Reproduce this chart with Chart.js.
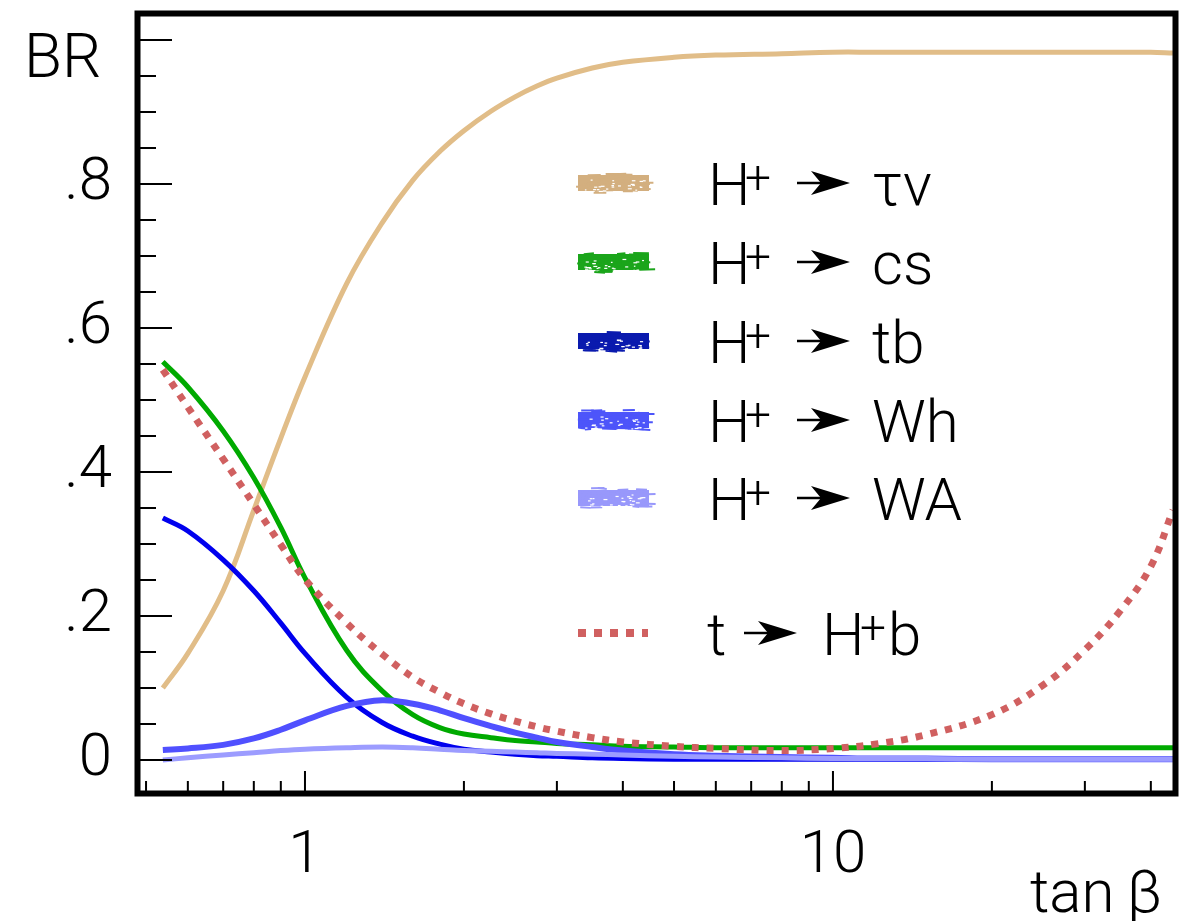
<!DOCTYPE html>
<html>
<head>
<meta charset="utf-8">
<script src="https://cdn.jsdelivr.net/npm/chart.js@4.4.1/dist/chart.umd.min.js"></script>
<style>
  html, body { margin: 0; padding: 0; background: #fff; }
  #wrap { width: 1190px; height: 921px; }
</style>
</head>
<body>
<div id="wrap"><canvas id="br-chart" width="1190" height="921"></canvas></div>
<script>
// tan(beta) sampling points
var tanBeta = [0.538, 0.6, 0.7, 0.8, 0.9, 1, 1.2, 1.4, 1.6, 1.8, 2, 2.25, 2.5, 2.75, 3, 3.5, 4, 5, 6, 8, 10, 12, 15, 20, 25, 30, 35, 40, 44.06];

// branching ratios
var brTauNu = [0.100, 0.148, 0.235, 0.347, 0.447, 0.532, 0.662, 0.746, 0.805, 0.845, 0.874, 0.901, 0.921, 0.936, 0.947, 0.961, 0.969, 0.976, 0.979, 0.981, 0.983, 0.983, 0.983, 0.983, 0.983, 0.983, 0.983, 0.983, 0.982];
var brCs    = [0.553, 0.518, 0.457, 0.392, 0.323, 0.253, 0.152, 0.096, 0.063, 0.045, 0.036, 0.031, 0.027, 0.025, 0.023, 0.021, 0.019, 0.018, 0.017, 0.017, 0.017, 0.017, 0.017, 0.017, 0.017, 0.017, 0.017, 0.017, 0.017];
var brTb    = [0.336, 0.318, 0.278, 0.235, 0.190, 0.148, 0.087, 0.052, 0.033, 0.022, 0.015, 0.011, 0.008, 0.006, 0.005, 0.003, 0.002, 0.001, 0.001, 0.001, 0.001, 0.001, 0.001, 0.001, 0.001, 0.001, 0.001, 0.001, 0.001];
var brWh    = [0.014, 0.016, 0.021, 0.030, 0.042, 0.055, 0.075, 0.083, 0.078, 0.069, 0.058, 0.047, 0.038, 0.031, 0.025, 0.018, 0.013, 0.008, 0.006, 0.004, 0.003, 0.002, 0.002, 0.001, 0.001, 0.001, 0.001, 0.001, 0.001];
var brWA    = [0.000, 0.003, 0.007, 0.010, 0.013, 0.015, 0.017, 0.018, 0.017, 0.015, 0.013, 0.012, 0.011, 0.010, 0.009, 0.008, 0.007, 0.005, 0.004, 0.003, 0.002, 0.002, 0.002, 0.001, 0.001, 0.001, 0.001, 0.001, 0.001];
var brTopToHb = [0.542, 0.490, 0.418, 0.355, 0.299, 0.251, 0.190, 0.147, 0.115, 0.094, 0.078, 0.064, 0.054, 0.046, 0.040, 0.031, 0.025, 0.019, 0.016, 0.013, 0.016, 0.022, 0.035, 0.063, 0.104, 0.153, 0.207, 0.269, 0.347];

// axis ticks
var yTickValues = [0, 0.2, 0.4, 0.6, 0.8];
var yTickLabels = ['0', '.2', '.4', '.6', '.8'];
var yMajorMarks = [0, 0.2, 0.4, 0.6, 0.8, 1.0];
var yMinorMarks = [0.05, 0.1, 0.15, 0.25, 0.3, 0.35, 0.45, 0.5, 0.55, 0.65, 0.7, 0.75, 0.85, 0.9, 0.95];
var xTickValues = [1, 10];
var xTickLabels = ['1', '10'];
var xMinorMarks = [0.5, 0.6, 0.7, 0.8, 0.9, 2, 3, 4, 5, 6, 7, 8, 9, 20, 30, 40];

// legend entries
var legendProducts = ['\u03c4\u03bd', 'cs', 'tb', 'Wh', 'WA'];
var legendColors = ['#d3af7f', '#1ba51b', '#0a1aae', '#4d55fa', '#9898fb'];

var FONT = '"Helvetica Neue", Roboto, "Liberation Sans", sans-serif';

function pts(values) {
  return values.map(function (v, i) { return { x: tanBeta[i], y: v }; });
}

function line(label, values, color, width, order) {
  return {
    label: label,
    data: pts(values),
    borderColor: color,
    borderWidth: width,
    pointRadius: 0,
    fill: false,
    tension: 0.4,
    order: order
  };
}

// cheap deterministic noise for the crayon-like legend swatches
function noise(n) {
  var s = Math.sin(n * 12.9898) * 43758.5453;
  return s - Math.floor(s);
}

function crayon(ctx, x, y, w, h, color) {
  ctx.save();
  ctx.fillStyle = color;
  ctx.fillRect(x + 2, y - h / 2 + 2, w - 4, h - 4);
  ctx.strokeStyle = color;
  ctx.lineWidth = 2;
  for (var i = 0; i < 40; i++) {
    var sx = x + noise(i + y) * (w - 10);
    var sy = y - h / 2 + noise(i * 3.1 + y) * h;
    ctx.beginPath();
    ctx.moveTo(sx, sy);
    ctx.lineTo(sx + 6 + noise(i * 7.7) * 10, sy + (noise(i * 5.3) - 0.5) * 2);
    ctx.stroke();
  }
  ctx.fillStyle = '#fff';
  for (var j = 0; j < 26; j++) {
    var fx = x + 8 + noise(j * 2.3 + y * 0.7) * (w - 16);
    var fy = y + (noise(j * 4.9 + y) - 0.3) * h * 0.6;
    ctx.fillRect(fx, fy, 1.5 + noise(j) * 2.5, 1.2);
  }
  ctx.restore();
}

function arrow(ctx, x0, y) {
  ctx.save();
  ctx.strokeStyle = '#000';
  ctx.fillStyle = '#000';
  ctx.lineWidth = 2.5;
  ctx.beginPath();
  ctx.moveTo(x0, y);
  ctx.lineTo(x0 + 30, y);
  ctx.stroke();
  ctx.beginPath();
  ctx.moveTo(x0 + 53, y);
  ctx.lineTo(x0 + 14, y - 12);
  ctx.lineTo(x0 + 24, y);
  ctx.lineTo(x0 + 14, y + 12);
  ctx.closePath();
  ctx.fill();
  ctx.restore();
}

var framePlugin = {
  id: 'frame',
  afterDraw: function (chart) {
    var ctx = chart.ctx, a = chart.chartArea;
    var xs = chart.scales.x, ys = chart.scales.y;
    ctx.save();
    ctx.strokeStyle = '#000';
    ctx.lineWidth = 2;
    ctx.beginPath();
    yMajorMarks.forEach(function (v) {
      var p = ys.getPixelForValue(v);
      ctx.moveTo(a.left, p); ctx.lineTo(a.left + 32, p);
    });
    yMinorMarks.forEach(function (v) {
      var p = ys.getPixelForValue(v);
      ctx.moveTo(a.left, p); ctx.lineTo(a.left + 16, p);
    });
    xTickValues.forEach(function (v) {
      var p = xs.getPixelForValue(v);
      ctx.moveTo(p, a.bottom); ctx.lineTo(p, a.bottom - 20);
    });
    xMinorMarks.forEach(function (v) {
      var p = xs.getPixelForValue(v);
      ctx.moveTo(p, a.bottom); ctx.lineTo(p, a.bottom - 10);
    });
    ctx.stroke();

    ctx.lineWidth = 6;
    ctx.strokeRect(a.left - 2.5, a.top - 2.5, a.right - a.left + 5, a.bottom - a.top + 5);

    // axis titles
    ctx.fillStyle = '#000';
    ctx.textBaseline = 'alphabetic';
    ctx.textAlign = 'left';
    ctx.font = '300 62px ' + FONT;
    ctx.fillText('BR', 24, 77);
    ctx.font = '300 60px ' + FONT;
    ctx.fillText('tan\u2009\u03b2', 1030, 912);

    // legend
    var rowY = [183, 262, 341, 420, 498];
    rowY.forEach(function (y, i) {
      crayon(ctx, 576, y, 75, 20, legendColors[i]);
      ctx.fillStyle = '#000';
      ctx.font = '300 60px ' + FONT;
      ctx.fillText('H', 708, y + 22);
      ctx.font = '300 46px ' + FONT;
      ctx.fillText('+', 745, y + 10);
      arrow(ctx, 797, y);
      ctx.font = '300 60px ' + FONT;
      ctx.fillText(legendProducts[i], 872, y + 22);
    });

    var yt = 633;
    ctx.save();
    ctx.strokeStyle = '#d06060';
    ctx.lineWidth = 8;
    ctx.setLineDash([8, 8]);
    ctx.beginPath();
    ctx.moveTo(578, yt); ctx.lineTo(648, yt);
    ctx.stroke();
    ctx.restore();
    ctx.fillStyle = '#000';
    ctx.font = '300 60px ' + FONT;
    ctx.fillText('t', 707, yt + 22);
    arrow(ctx, 744, yt);
    ctx.fillText('H', 822, yt + 22);
    ctx.font = '300 46px ' + FONT;
    ctx.fillText('+', 860, yt + 10);
    ctx.font = '300 60px ' + FONT;
    ctx.fillText('b', 888, yt + 22);
    ctx.restore();
  }
};

var ctx = document.getElementById('br-chart').getContext('2d');

var brChart = new Chart(ctx, {
  type: 'line',
  data: {
    datasets: [
      line('H+ \u2192 \u03c4\u03bd', brTauNu, '#e1bd88', 5, 6),
      line('H+ \u2192 cs', brCs, '#00aa00', 5, 5),
      line('H+ \u2192 tb', brTb, '#0000ee', 5, 4),
      line('H+ \u2192 Wh', brWh, '#5050ff', 6, 3),
      line('H+ \u2192 WA', brWA, '#9c9cff', 5, 2),
      Object.assign(line('t \u2192 H+b', brTopToHb, '#d06060', 7, 1), { borderDash: [7, 8] })
    ]
  },
  options: {
    responsive: false,
    animation: false,
    layout: { padding: { top: 16, right: 17, left: 0, bottom: 0 } },
    plugins: {
      legend: { display: false },
      tooltip: { enabled: false }
    },
    scales: {
      x: {
        type: 'logarithmic',
        min: 0.487,
        max: 44.06,
        grid: { display: false },
        border: { display: false },
        afterBuildTicks: function (s) { s.ticks = xTickValues.map(function (v) { return { value: v }; }); },
        afterFit: function (s) { s.height = 130; s.paddingLeft = 0; s.paddingRight = 0; },
        ticks: {
          autoSkip: false,
          maxRotation: 0,
          padding: 22,
          color: '#000',
          font: { family: FONT, size: 60, weight: '300' },
          callback: function (v, i) { return xTickLabels[i]; }
        }
      },
      y: {
        min: -0.0431,
        max: 1.0333,
        grid: { display: false },
        border: { display: false },
        afterBuildTicks: function (s) { s.ticks = yTickValues.map(function (v) { return { value: v }; }); },
        afterFit: function (s) { s.width = 140; s.paddingTop = 0; s.paddingBottom = 0; },
        ticks: {
          padding: 20,
          color: '#000',
          font: { family: FONT, size: 60, weight: '300' },
          callback: function (v, i) { return yTickLabels[i]; }
        }
      }
    }
  },
  plugins: [framePlugin]
});
</script>
</body>
</html>
